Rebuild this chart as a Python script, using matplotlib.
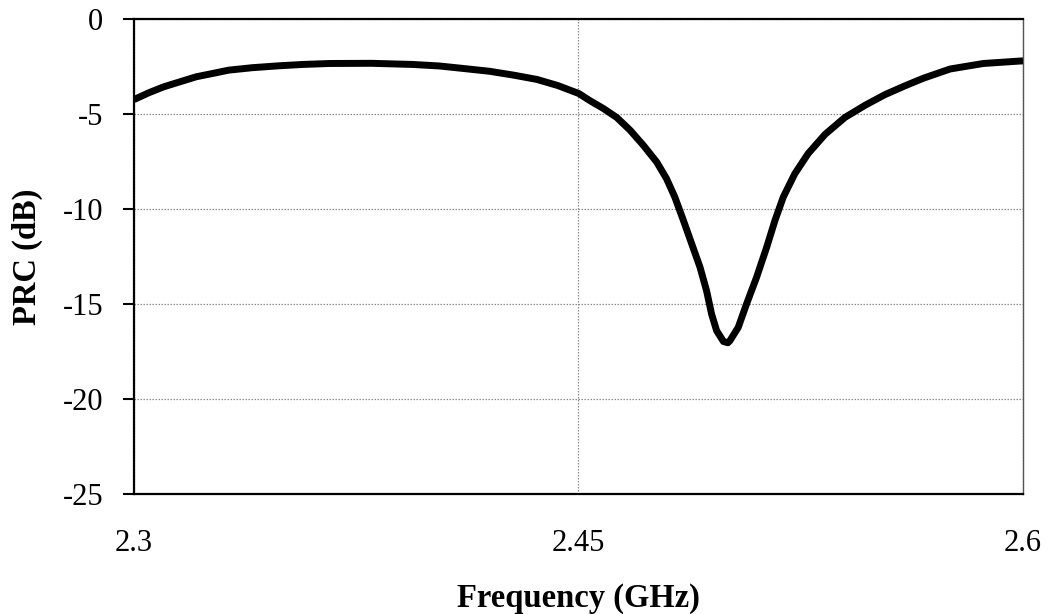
import matplotlib.pyplot as plt
import numpy as np

# Reflection curve (frequency in GHz, PRC in dB)
freq = [2.300, 2.305, 2.310, 2.316, 2.321, 2.327, 2.332, 2.340, 2.349,
        2.357, 2.366, 2.380, 2.394, 2.403, 2.411, 2.420, 2.428, 2.436,
        2.443, 2.4501, 2.4539, 2.4584, 2.4629, 2.4674, 2.4719, 2.4764,
        2.4797, 2.4825, 2.4854, 2.4882, 2.4910, 2.4932, 2.4949, 2.4966,
        2.4989, 2.5004, 2.5011, 2.5039, 2.5067, 2.5101, 2.5135, 2.5163,
        2.5191, 2.5230, 2.5275, 2.5332, 2.5399, 2.5467, 2.5534, 2.5601,
        2.5663, 2.5754, 2.5866, 2.600]
prc = [-4.24, -3.88, -3.57, -3.28, -3.04, -2.85, -2.69, -2.56, -2.46,
       -2.39, -2.34, -2.33, -2.39, -2.47, -2.60, -2.75, -2.95, -3.18,
       -3.50, -3.92, -4.30, -4.71, -5.18, -5.85, -6.65, -7.53,
       -8.40, -9.37, -10.60, -11.83, -13.06, -14.29, -15.52, -16.40,
       -16.97, -17.04, -16.93, -16.23, -15.00, -13.59, -12.01, -10.60,
       -9.37, -8.14, -7.08, -6.07, -5.18, -4.54, -3.98, -3.52,
       -3.12, -2.63, -2.34, -2.20]
xticks = [2.3, 2.45, 2.6]
xtick_labels = ['2.3', '2.45', '2.6']
yticks = [0, -5, -10, -15, -20, -25]

plt.rcParams['font.family'] = ['Liberation Serif', 'DejaVu Serif']
plt.rcParams['axes.unicode_minus'] = False

fig = plt.figure(figsize=(10.5, 6.14), dpi=100)
ax = fig.add_axes([0.1276, 0.1954, 0.8467, 0.7736])

ax.plot(freq, prc, color='black', linewidth=5.0, solid_capstyle='butt',
        solid_joinstyle='round', zorder=3)

ax.set_xlim(2.3, 2.6)
ax.set_ylim(-25, 0)
ax.set_xticks(xticks)
ax.set_xticklabels(xtick_labels)
ax.set_yticks(yticks)
ax.tick_params(axis='x', length=0, pad=25, labelsize=22)
ax.tick_params(axis='y', length=8, width=1.5, pad=14, labelsize=22,
               direction='out')

ax.grid(True, color='#8c8c8c', linestyle=(0, (1.2, 1.2)), linewidth=0.9)
ax.set_axisbelow(True)

for side in ['left', 'top', 'bottom']:
    ax.spines[side].set_linewidth(1.6)
    ax.spines[side].set_color('black')
ax.spines['right'].set_color('#555555')
ax.spines['right'].set_linewidth(1.0)

ax.set_xlabel('Frequency (GHz)', fontsize=23.5, fontweight='bold', labelpad=18)
ax.set_ylabel('PRC (dB)', fontsize=23.5, fontweight='bold', labelpad=14)

fig.savefig('out.png', dpi=100)
